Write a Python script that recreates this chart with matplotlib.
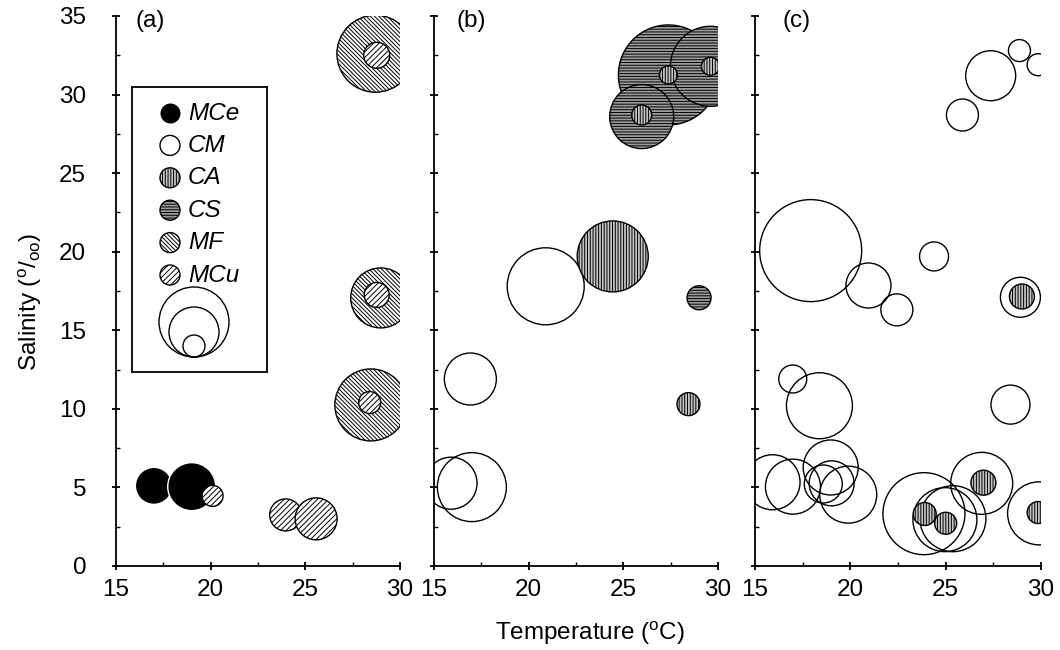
import matplotlib
matplotlib.use("Agg")
import matplotlib.pyplot as plt
from matplotlib.ticker import MultipleLocator

plt.rcParams['font.family'] = ['Liberation Sans', 'DejaVu Sans']
plt.rcParams['mathtext.fontset'] = 'custom'
plt.rcParams['mathtext.rm'] = 'Liberation Sans'
plt.rcParams['mathtext.it'] = 'Liberation Sans:italic'
plt.rcParams['hatch.linewidth'] = 0.7
plt.rcParams['hatch.color'] = 'black'

# ---------------- data ----------------
# Panel (a)
a_MCe_T = [17.0, 19.0]
a_MCe_S = [5.1, 5.05]
a_MCe_d = [37, 48]
a_MF_T = [28.7, 28.98, 28.46]
a_MF_S = [32.6, 17.06, 10.25]
a_MF_d = [77, 60, 72]
a_MCu_T = [20.1, 23.96, 25.57, 28.77, 28.77, 28.4]
a_MCu_S = [4.46, 3.25, 3.0, 32.5, 17.25, 10.4]
a_MCu_d = [21, 32, 42, 26, 25, 22]

# Panel (b)
b_CM_T = [15.9, 17.0, 16.92, 20.9]
b_CM_S = [5.27, 5.02, 11.9, 17.8]
b_CM_d = [52, 69, 52, 77]
b_CS_T = [27.38, 29.6, 25.97, 29.0]
b_CS_S = [31.25, 31.8, 28.6, 17.07]
b_CS_d = [100, 80, 64, 24]
b_CA_T = [24.44, 27.38, 25.97, 29.6, 28.44]
b_CA_S = [19.7, 31.25, 28.7, 31.8, 10.3]
b_CA_d = [71, 18, 20, 18, 23]

# Panel (c)
c_CM_T = [28.87, 29.85, 27.36, 25.88, 17.92, 20.95, 22.44, 24.39, 28.92, 28.4,
          16.98, 18.38, 15.92, 16.99, 18.97, 18.58, 19.02, 19.89, 23.86, 24.96,
          25.38, 26.89, 29.9]
c_CM_S = [32.8, 31.9, 31.2, 28.7, 20.07, 17.85, 16.3, 19.7, 17.1, 10.27,
          11.9, 10.2, 5.33, 5.05, 6.27, 5.22, 5.26, 4.54, 3.33, 2.95,
          3.01, 5.26, 3.35]
c_CM_d = [22, 22, 50, 32, 102, 45, 32, 29, 40, 39,
          28, 66, 55, 55, 55, 38, 45, 57, 82, 64,
          66, 62, 63]
c_CA_T = [29.0, 23.9, 25.0, 26.98, 29.85]
c_CA_S = [17.15, 3.31, 2.72, 5.3, 3.4]
c_CA_d = [25, 23, 22, 25, 22]

categories = ['MCe', 'CM', 'CA', 'CS', 'MF', 'MCu']
size_legend_d = [70, 50, 22]
panel_labels = ['(a)', '(b)', '(c)']
x_ticks = [15, 20, 25, 30]
y_ticks = [0, 5, 10, 15, 20, 25, 30, 35]

# ---------------- styles ----------------
styles = {
    'MCe': dict(facecolor='black', edgecolor='white', hatch=None),
    'CM': dict(facecolor='none', edgecolor='black', hatch=None),
    'CA': dict(facecolor='#c4c4c4', edgecolor='black', hatch='||||||'),
    'CS': dict(facecolor='#9c9c9c', edgecolor='black', hatch='------'),
    'MF': dict(facecolor='white', edgecolor='black', hatch='\\' * 8),
    'MCu': dict(facecolor='white', edgecolor='black', hatch='/' * 6),
}

DPI = 100
fig = plt.figure(figsize=(10.6, 6.5), dpi=DPI)
W, H = 1060, 650
lefts = [116, 434, 755]
widths = [284, 284, 286]
bottom_px, top_px = 566, 16


def sz(d):
    return [(v * 72.0 / DPI) ** 2 for v in d]


def bubbles(ax, cat, T, S, d, lw=1.0):
    st = styles[cat]
    kw = dict(s=sz(d), facecolors=st['facecolor'], edgecolors=st['edgecolor'],
              linewidths=lw, zorder=3)
    if st['hatch']:
        kw['hatch'] = st['hatch']
    ax.scatter(T, S, **kw)


axes = []
for i in range(3):
    ax = fig.add_axes([lefts[i] / W, (H - bottom_px) / H, widths[i] / W,
                       (bottom_px - top_px) / H])
    ax.set_xlim(15, 30)
    ax.set_ylim(0, 35)
    for sp in ['top', 'right']:
        ax.spines[sp].set_visible(False)
    for sp in ['left', 'bottom']:
        ax.spines[sp].set_linewidth(1.3)
    ax.set_xticks(x_ticks)
    ax.set_yticks(y_ticks)
    ax.xaxis.set_minor_locator(MultipleLocator(2.5))
    ax.yaxis.set_minor_locator(MultipleLocator(2.5))
    ax.tick_params(which='major', direction='inout', length=6, width=1.3,
                   labelsize=17.5)
    ax.tick_params(which='minor', direction='in', length=3, width=1.0)
    ax.tick_params(axis='x', which='major', pad=6)
    ax.tick_params(axis='y', which='major', pad=18.5)
    if i > 0:
        ax.tick_params(axis='y', labelleft=False)
    ax.text([0.07, 0.08, 0.095][i], 0.99, panel_labels[i], transform=ax.transAxes,
            ha='left', va='center', fontsize=17.5)
    axes.append(ax)

axa, axb, axc = axes
# panel a
bubbles(axa, 'MCe', a_MCe_T, a_MCe_S, a_MCe_d)
bubbles(axa, 'MF', a_MF_T, a_MF_S, a_MF_d)
bubbles(axa, 'MCu', a_MCu_T, a_MCu_S, a_MCu_d)
# panel b
bubbles(axb, 'CM', b_CM_T, b_CM_S, b_CM_d)
bubbles(axb, 'CS', b_CS_T, b_CS_S, b_CS_d)
bubbles(axb, 'CA', b_CA_T, b_CA_S, b_CA_d)
# panel c
bubbles(axc, 'CM', c_CM_T, c_CM_S, c_CM_d)
bubbles(axc, 'CA', c_CA_T, c_CA_S, c_CA_d)

# ---------------- legend box (inset) ----------------
lx0, ly0, lx1, ly1 = 132, 87, 267, 372
lg = fig.add_axes([lx0 / W, (H - ly1) / H, (lx1 - lx0) / W, (ly1 - ly0) / H])
lg.set_xlim(0, lx1 - lx0)
lg.set_ylim(0, ly1 - ly0)
lg.set_xticks([])
lg.set_yticks([])
for sp in lg.spines.values():
    sp.set_linewidth(1.3)
row_top, row_step = (ly1 - ly0) - 26, 32.4
for k, cat in enumerate(categories):
    yy = row_top - k * row_step
    bubbles(lg, cat, [38], [yy], [20], lw=1.0 if cat != 'MCe' else 0)
    lg.text(56, yy, cat, ha='left', va='center', fontsize=17.5, style='italic')
for dd in size_legend_d:
    bubbles(lg, 'CM', [62], [15 + dd / 2.0], [dd])

fig.text(30 / W, 1 - 302 / H, r'Salinity ($^{\mathrm{o}}$/$_{\mathrm{oo}}$)',
         rotation=90, ha='center', va='center', fontsize=17.5)
fig.text(590 / W, 1 - 633 / H, r'Temperature ($^{\mathrm{o}}$C)',
         ha='center', va='center', fontsize=17.5)

fig.savefig('out.png', dpi=DPI)
